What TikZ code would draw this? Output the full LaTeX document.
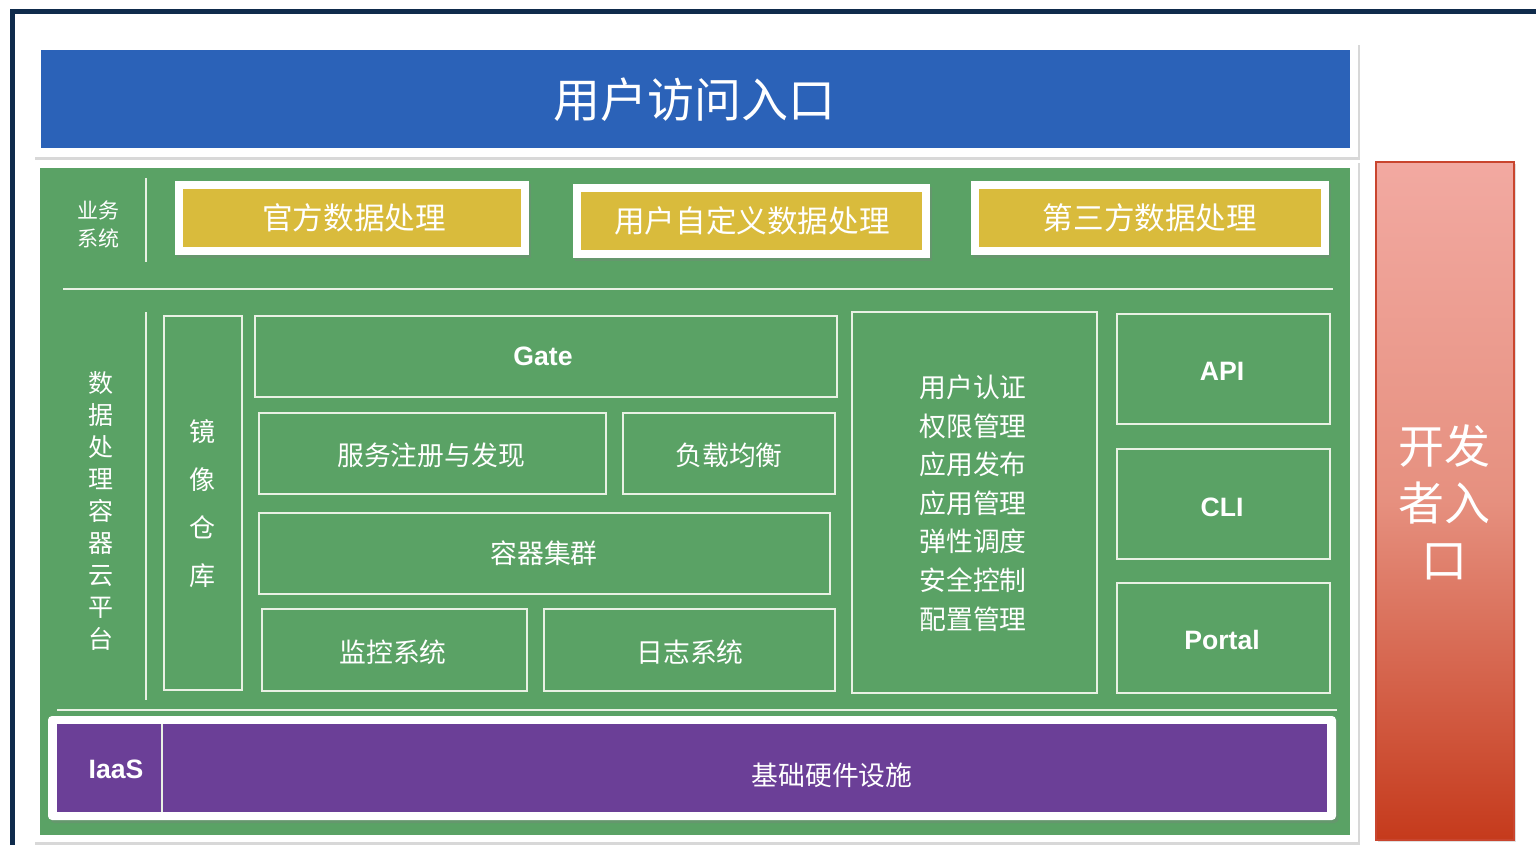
\documentclass[tikz,border=0pt]{standalone}
\usepackage{fontspec}
\setmainfont{Liberation Sans}
\newfontfamily\cjk{Noto Sans CJK SC}
\usetikzlibrary{shadows,fit}
\definecolor{navy}{HTML}{0F2B4C}
\definecolor{bblue}{HTML}{2B62B8}
\definecolor{ggreen}{HTML}{5AA265}
\definecolor{yyellow}{HTML}{D9BB3C}
\definecolor{ppurple}{HTML}{6B3F97}
\definecolor{lline}{HTML}{E9F1E4}
\definecolor{rtop}{HTML}{F2A9A1}
\definecolor{rmid}{HTML}{E6907F}
\definecolor{rbot}{HTML}{C53A1C}
\definecolor{redge}{HTML}{C9452E}
\tikzset{
  frame/.style={fill=white, draw=none, inner sep=0pt, drop shadow={shadow xshift=1.2pt, shadow yshift=-1.5pt, opacity=0.3}},
  panel/.style={draw=none, inner sep=0pt},
  outl/.style={draw=lline, line width=1.2pt, inner sep=0pt},
  sep/.style={draw=lline, line width=1.2pt},
  cjktxt/.style={text=white, font=\cjk\fontsize{13.4}{16}\selectfont},
  yeltxt/.style={text=white, font=\cjk\fontsize{15.3}{18}\selectfont},
  lat/.style={text=white, font=\bfseries\fontsize{13.3}{16}\selectfont},
}
\begin{document}
\begin{tikzpicture}[x=0.5pt,y=-0.5pt]
\useasboundingbox (0,0) rectangle (1536,845);
\fill[white] (0,0) rectangle (1536,845);
\draw[navy, line width=2.5pt] (12,880) -- (12,12) -- (1580,12);

% top: user entrance
\node[frame, fit={(33,42) (1358,157)}] (topframe) {};
\node[panel, fill=bblue, fit={(41,50) (1350,148)}] (top) {};
\node[text=white, font=\cjk\fontsize{23.5}{28}\selectfont] (toptxt) at (694,100) {用户访问入口};

% green platform
\node[frame, fit={(33,160) (1358,842)}] (greenframe) {};
\node[panel, fill=ggreen, fit={(40,168) (1350,835)}] (green) {};

% developer entrance
\node[top color=rtop, bottom color=rbot, middle color=rmid, draw=redge, line width=0.8pt, inner sep=0pt,
      drop shadow={shadow xshift=1.2pt, shadow yshift=-1.2pt, opacity=0.25},
      fit={(1376,162) (1514,840)}] (dev) {};
\node[text=white, align=center, font=\cjk\fontsize{23}{28.5}\selectfont] (devtxt) at (1444,502) {开发\\者入\\口};

% business systems row
\node[text=white, align=center, font=\cjk\fontsize{10.5}{14}\selectfont] (biz) at (98,224) {业务\\系统};
\draw[sep] (146,178) -- (146,262);

\node[frame, fit={(175,181) (529,255)}] (y1f) {};
\node[panel, fill=yyellow, fit={(183,189) (521,247)}] (y1) {};
\node[yeltxt] (y1t) at (354,218) {官方数据处理};

\node[frame, fit={(573,184) (930,258)}] (y2f) {};
\node[panel, fill=yyellow, fit={(581,192) (922,250)}] (y2) {};
\node[yeltxt] (y2t) at (752,221) {用户自定义数据处理};

\node[frame, fit={(971,181) (1329,255)}] (y3f) {};
\node[panel, fill=yyellow, fit={(979,189) (1321,247)}] (y3) {};
\node[yeltxt] (y3t) at (1150,218) {第三方数据处理};

\draw[sep] (63,289) -- (1333,289);

% container cloud platform
\node[text=white, align=center, font=\cjk\fontsize{12.5}{16}\selectfont] (plat) at (101,511) {数\\据\\处\\理\\容\\器\\云\\平\\台};
\draw[sep] (146,312) -- (146,700);

\node[outl, fit={(164,316) (242,690)}] (repo) {};
\node[cjktxt, align=center, font=\cjk\fontsize{13}{24}\selectfont] (repot) at (202,504) {镜\\像\\仓\\库};
\node[outl, fit={(255,316) (837,397)}] (gate) {};
\node[lat] (gatet) at (543,356) {Gate};
\node[outl, fit={(259,413) (606,494)}] (reg) {};
\node[cjktxt] (regt) at (431,455) {服务注册与发现};
\node[outl, fit={(623,413) (835,494)}] (lb) {};
\node[cjktxt] (lbt) at (729,455) {负载均衡};
\node[outl, fit={(259,513) (830,594)}] (cluster) {};
\node[cjktxt] (clustert) at (544,553) {容器集群};
\node[outl, fit={(262,609) (527,691)}] (mon) {};
\node[cjktxt] (mont) at (393,652) {监控系统};
\node[outl, fit={(544,609) (835,691)}] (log) {};
\node[cjktxt] (logt) at (690,652) {日志系统};

\node[outl, fit={(852,312) (1097,693)}] (funcs) {};
\node[cjktxt, align=center, font=\cjk\fontsize{13.4}{19.3}\selectfont] (funcst) at (973,503) {用户认证\\权限管理\\应用发布\\应用管理\\弹性调度\\安全控制\\配置管理};

\node[outl, fit={(1117,314) (1330,424)}] (api) {};
\node[lat] (apit) at (1222,371) {API};
\node[outl, fit={(1117,449) (1330,559)}] (cli) {};
\node[lat] (clit) at (1222,507) {CLI};
\node[outl, fit={(1117,583) (1330,693)}] (portal) {};
\node[lat] (portalt) at (1222,640) {Portal};

\draw[sep] (57,710) -- (1337,710);

% IaaS
\node[frame, rounded corners=2pt, fit={(48,716) (1336,820)}] (iaasframe) {};
\node[panel, fill=ppurple, fit={(57,724) (1327,812)}] (iaas) {};
\draw[sep] (162,724) -- (162,812);
\node[lat] (iaastxt) at (116,769) {IaaS};
\node[cjktxt] (hw) at (832,775) {基础硬件设施};
\end{tikzpicture}
\end{document}
